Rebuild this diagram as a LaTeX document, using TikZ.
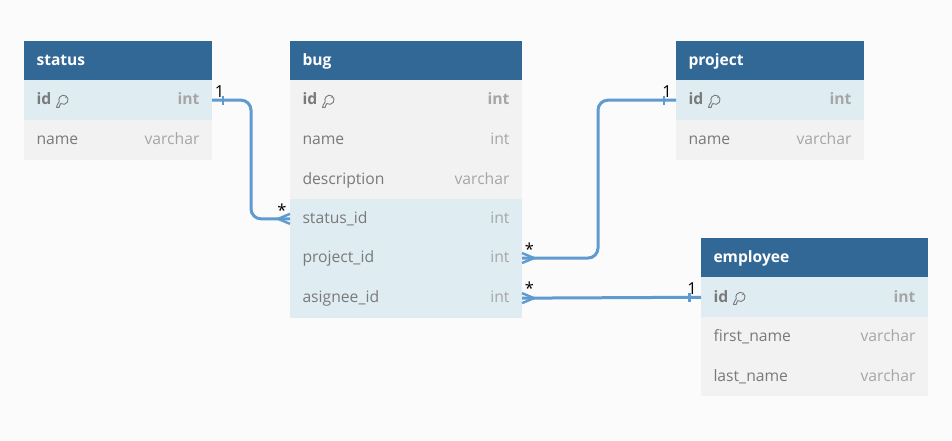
\documentclass[tikz,border=0pt]{standalone}
\usepackage{fontspec}
\setmainfont{Open Sans}
\usetikzlibrary{calc}
\definecolor{pagebg}{HTML}{FBFBFB}
\definecolor{headbg}{HTML}{316896}
\definecolor{rowplain}{HTML}{F2F2F2}
\definecolor{rowkey}{HTML}{DFEDF3}
\definecolor{nametxt}{HTML}{7A7A7A}
\definecolor{typetxt}{HTML}{A6A6A6}
\definecolor{linkblue}{HTML}{5F9BCF}
\tikzset{
  cell/.style={rectangle,inner sep=0pt,outer sep=0pt,draw=none,anchor=north west,minimum height=#1},
  headcell/.style={cell=39.5pt,fill=headbg},
  plain/.style={cell=39.7pt,fill=rowplain},
  keyed/.style={cell=39.7pt,fill=rowkey},
  txt/.style={inner sep=0pt,outer sep=0pt,font=\fontsize{15.7}{18}\selectfont,text height=11pt,text depth=3pt},
  nm/.style={txt,anchor=west,text=nametxt},
  ty/.style={txt,anchor=east,text=typetxt},
  ttl/.style={txt,anchor=west,text=white,font=\fontsize{15.6}{18}\selectfont\bfseries},
  link/.style={draw=linkblue,line width=3pt,rounded corners=10pt},
  tick/.style={draw=linkblue,line width=2.2pt},
  foot/.style={draw=linkblue,line width=2.4pt},
  card/.style={inner sep=0pt,outer sep=0pt,text=black,font=\fontsize{16.5}{18}\selectfont},
  keyicon/.style={draw=nametxt,line width=0.9pt,fill=none,line join=round}
}
\newcommand{\tblhead}[5]{%
  \node[headcell,minimum width=#4pt] (#1) at (#2,#3) {};
  \node[ttl,yshift=-0.6pt] (#1t) at ($(#1.west)+(12.5,0)$) {#5};
}
\newcommand{\tblrow}[7]{%
  \node[#5,minimum width=#4pt] (#1) at (#2,#3) {};
  \node[nm,yshift=-0.8pt] (#1n) at ($(#1.west)+(12.5,0)$) {#6};
  \node[ty,yshift=-0.8pt] (#1y) at ($(#1.east)-(12.5,0)$) {#7};
}
\newcommand{\tblkeyrow}[6]{%
  \node[#5,minimum width=#4pt] (#1) at (#2,#3) {};
  \node[nm,yshift=-0.8pt,font=\fontsize{15.7}{18}\selectfont\bfseries] (#1n) at ($(#1.west)+(12.5,0)$) {id};
  \node[ty,yshift=-0.8pt,font=\fontsize{15.7}{18}\selectfont\bfseries] (#1y) at ($(#1.east)-(12.5,0)$) {#6};
  \draw[keyicon,shift={(#1n.east)}] (9.6,2.6) arc[start angle=-125,end angle=205,radius=4.6pt]
    -- (6.2,3.6) -- (5.2,6.4) -- (8,6.4) -- (8.4,4.6) -- cycle;
  \fill[nametxt,shift={(#1n.east)}] (14.6,-3.6) circle (0.7pt);
}
\begin{document}
\begin{tikzpicture}[x=1pt,y=-1pt]
\useasboundingbox[fill=pagebg] (0,0) rectangle (952,441);

% status
\tblhead{status}{24}{41}{188}{status}
\tblkeyrow{statusid}{24}{80.3}{188}{keyed}{int}
\tblrow{statusname}{24}{120}{188}{plain}{name}{varchar}

% bug
\tblhead{bug}{290}{41}{232}{bug}
\tblkeyrow{bugid}{290}{80.3}{232}{plain}{int}
\tblrow{bugname}{290}{120}{232}{plain}{name}{int}
\tblrow{bugdesc}{290}{159.4}{232}{plain}{description}{varchar}
\tblrow{bugstatus}{290}{199}{232}{keyed}{status\_id}{int}
\tblrow{bugproject}{290}{238.2}{232}{keyed}{project\_id}{int}
\tblrow{bugasignee}{290}{278.3}{232}{keyed}{asignee\_id}{int}

% project
\tblhead{project}{676}{41}{188}{project}
\tblkeyrow{projectid}{676}{80.3}{188}{keyed}{int}
\tblrow{projectname}{676}{120}{188}{plain}{name}{varchar}

% employee
\tblhead{employee}{701}{238}{227}{employee}
\tblkeyrow{employeeid}{701}{277.4}{227}{keyed}{int}
\tblrow{employeefirst}{701}{317}{227}{plain}{first\_name}{varchar}
\tblrow{employeelast}{701}{356.7}{227}{plain}{last\_name}{varchar}

% connectors
\draw[link] (statusid.east) -- ++(39,0) |- (bugstatus.west);
\draw[link] (bugproject.east) -- ++(76,0) |- (projectid.west);
\draw[link,rounded corners=0pt] (bugasignee.east) -- (employeeid.west);

% one ticks
\draw[tick] ($(statusid.east)+(11,-4.5)$) -- ++(0,9);
\draw[tick] ($(projectid.west)+(-12,-4.5)$) -- ++(0,9);
\draw[tick] ($(employeeid.west)+(-11.5,-4.5)$) -- ++(0,9);

% crow's feet
\draw[foot] ($(bugstatus.west)+(0,-5)$) -- ++(-12,5) -- ++(12,5);
\draw[foot] ($(bugproject.east)+(0,-5)$) -- ++(12,5) -- ++(-12,5);
\draw[foot] ($(bugasignee.east)+(0,-5)$) -- ++(12,5) -- ++(-12,5);

% cardinalities
\node[card] (c1) at (219.5,92) {1};
\node[card] (c2) at (282,210.5) {*};
\node[card] (c3) at (667,92) {1};
\node[card] (c4) at (529.5,249.5) {*};
\node[card] (c5) at (692,289) {1};
\node[card] (c6) at (529.5,288.5) {*};
\end{tikzpicture}
\end{document}
